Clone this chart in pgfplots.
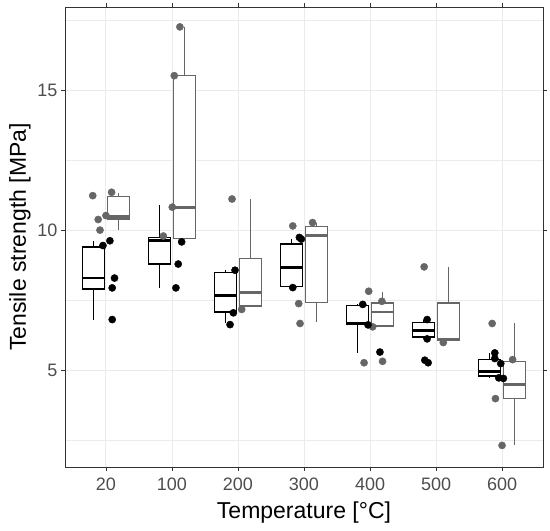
\documentclass[border=0pt]{standalone}
\usepackage{pgfplots}
\pgfplotsset{compat=1.18}
\usepgfplotslibrary{statistics}
\usepackage{fontspec}
\setmainfont{Liberation Sans}
\definecolor{gridc}{HTML}{EBEBEB}
\definecolor{framec}{HTML}{333333}
\definecolor{tickc}{HTML}{4D4D4D}
\definecolor{greyc}{HTML}{666666}
\pgfplotsset{
  bbox/.style={draw=black, fill=white, line width=1.3pt, mark=none},
  gbox/.style={draw=greyc, fill=white, line width=1.3pt, mark=none},
}
\newcommand{\bx}[7]{% style, pos, lw, q1, med, q3, uw
  \addplot[#1, boxplot prepared={draw position=#2, lower whisker=#3, lower quartile=#4, median=#5, upper quartile=#6, upper whisker=#7, box extend=0.34, whisker extend=0, every median/.style={line width=2.8pt}, every whisker/.style={line width=1.3pt}}] coordinates {};
}
\begin{document}
\begin{tikzpicture}
\useasboundingbox (-65pt,-64pt) rectangle (485pt,467pt);
\begin{axis}[
  scale only axis, width=478pt, height=460pt,
  at={(0,0)}, anchor=south west,
  xmin=-0.62, xmax=6.62, ymin=1.55, ymax=17.96,
  boxplot/draw direction=y,
  xtick={0,1,2,3,4,5,6},
  xticklabels={20,100,200,300,400,500,600},
  ytick={5,10,15},
  minor ytick={2.5,7.5,12.5,17.5},
  grid=both,
  major grid style={draw=gridc, line width=0.9pt},
  minor grid style={draw=gridc, line width=0.45pt},
  minor tick length=0pt,
  major tick length=4pt,
  tick align=outside,
  tick style={draw=framec, line width=0.8pt},
  axis line style={draw=framec, line width=0.8pt},
  /pgf/number format/assume math mode=true,
  tick label style={font=\fontsize{18}{18}\selectfont, text=tickc},
  xticklabel style={yshift=-3pt},
  xlabel={Temperature [°C]},
  ylabel={Tensile strength [MPa]},
  label style={font=\fontsize{23}{23}\selectfont, text=black},
  xlabel style={yshift=-5pt},
]
% black boxes
\bx{bbox}{-0.19}{6.81}{7.90}{8.29}{9.40}{9.61}
\bx{bbox}{0.81}{7.92}{8.79}{9.63}{9.73}{10.89}
\bx{bbox}{1.81}{6.69}{7.08}{7.68}{8.50}{8.57}
\bx{bbox}{2.81}{7.95}{8.00}{8.68}{9.50}{9.70}
\bx{bbox}{3.81}{5.62}{6.63}{6.69}{7.30}{7.35}
\bx{bbox}{4.81}{6.12}{6.19}{6.43}{6.70}{6.81}
\bx{bbox}{5.81}{4.72}{4.80}{4.95}{5.38}{5.63}
% grey boxes
\bx{gbox}{0.19}{10.02}{10.40}{10.48}{11.21}{11.33}
\bx{gbox}{1.19}{9.71}{9.71}{10.82}{15.51}{17.23}
\bx{gbox}{2.19}{7.25}{7.29}{7.78}{9.00}{11.10}
\bx{gbox}{3.19}{6.73}{7.41}{9.80}{10.12}{10.27}
\bx{gbox}{4.19}{6.58}{6.58}{7.08}{7.40}{7.80}
\bx{gbox}{5.19}{6.05}{6.07}{6.10}{7.40}{8.67}
\bx{gbox}{6.19}{2.32}{3.99}{4.49}{5.32}{6.67}
% grey points
\addplot[only marks, mark=*, mark size=3.6pt, color=greyc] coordinates {
(-0.20,11.23) (0.086,11.35) (-0.117,10.38) (-0.09,10.0) (0.0,10.52)
(1.12,17.25) (1.035,15.51) (0.87,9.79) (1.005,10.82)
(1.91,11.11) (2.056,7.17)
(2.83,10.15) (3.13,10.27) (2.92,7.38) (2.94,6.67)
(3.98,7.82) (3.91,5.27) (4.19,5.32) (4.04,6.55) (4.18,7.46)
(4.82,8.69) (5.11,5.99)
(5.85,6.67) (5.90,3.99) (6.00,2.32) (6.16,5.38)
};
% black points
\addplot[only marks, mark=*, mark size=3.6pt, color=black] coordinates {
(0.06,9.62) (-0.045,9.45) (0.13,8.29) (0.095,7.94) (0.095,6.81)
(1.147,9.58) (1.095,8.79) (1.06,7.94)
(1.955,8.57) (1.93,7.05) (1.88,6.63)
(2.93,9.74) (2.96,9.68) (2.83,7.95)
(3.89,7.35) (4.15,5.65) (3.97,6.62)
(4.865,6.81) (4.865,6.12) (4.83,5.36) (4.88,5.27)
(5.89,5.62) (5.89,5.42) (5.98,5.24) (5.95,4.73) (6.02,4.71)
};
\end{axis}
\end{tikzpicture}
\end{document}
